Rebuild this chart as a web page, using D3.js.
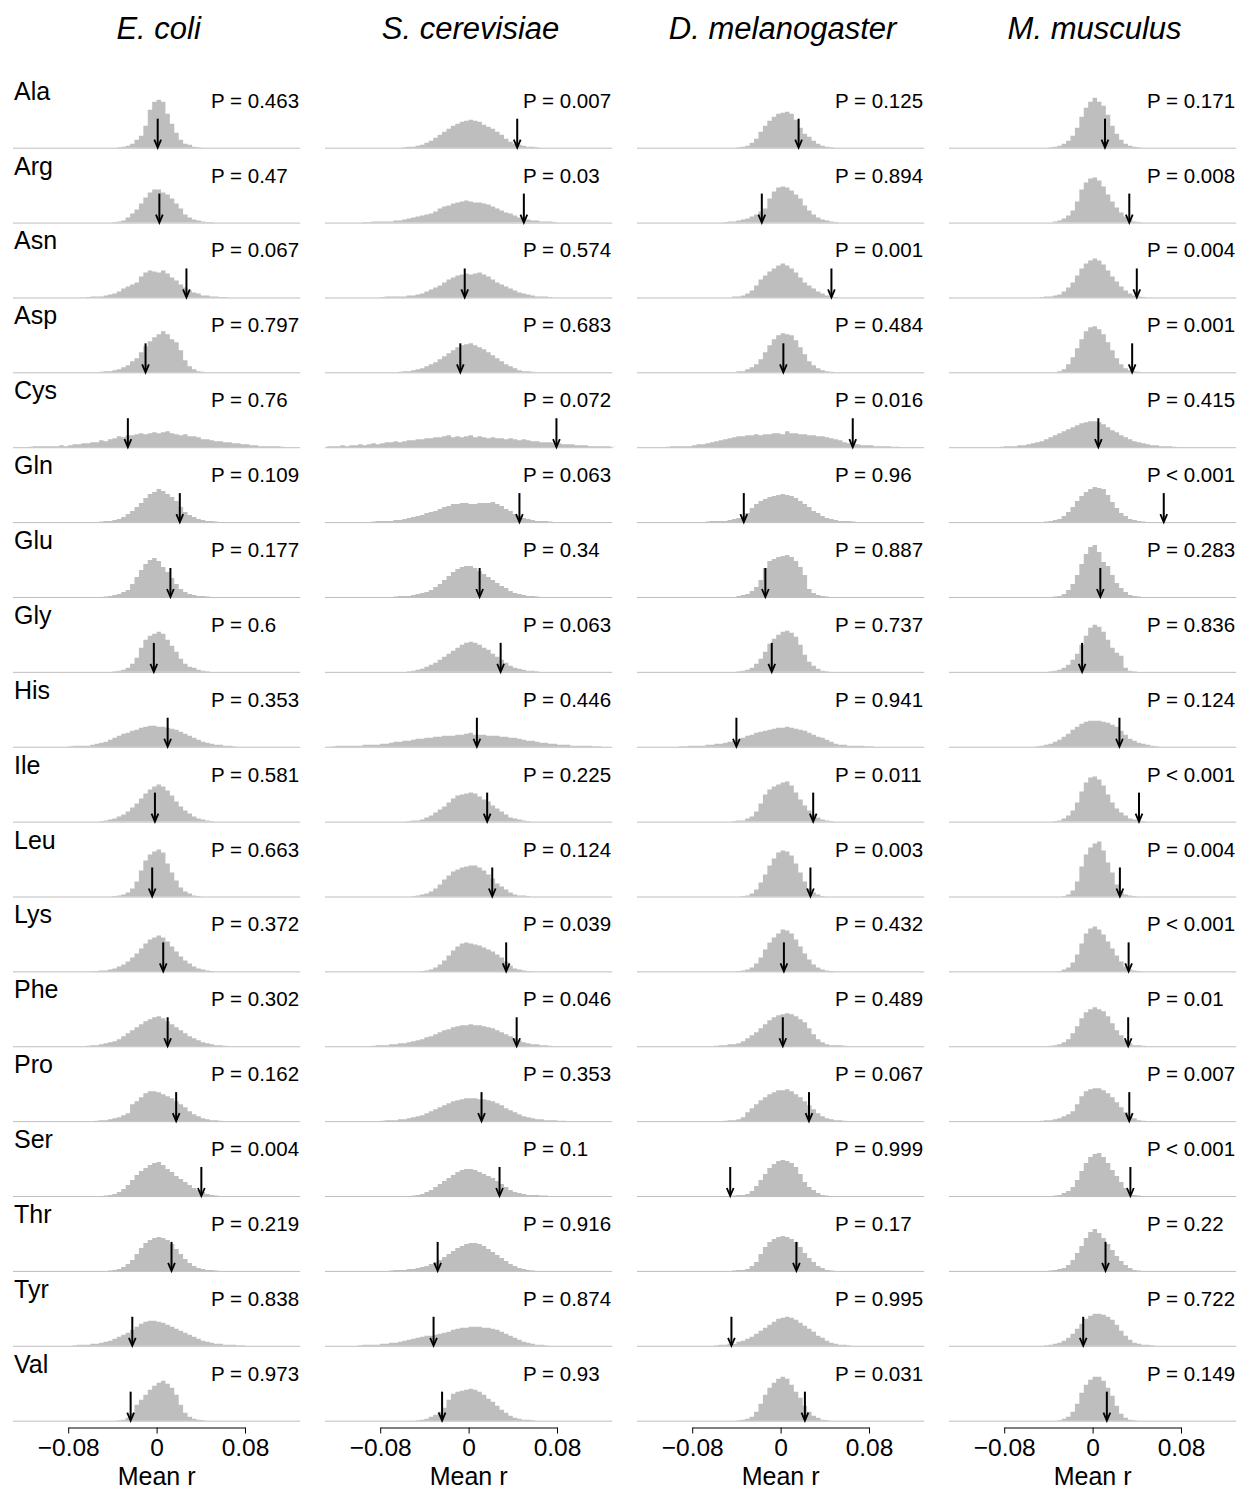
<!DOCTYPE html>
<html>
<head>
<meta charset="utf-8">
<script src="https://cdn.jsdelivr.net/npm/d3@7"></script>
<style>
  body { margin: 0; background: #fff; }
  text { font-family: "Liberation Sans", Arial, Helvetica, sans-serif; }
</style>
</head>
<body>
<div id="chart"></div>
<script>
// ---- data ----
const species = ['E. coli', 'S. cerevisiae', 'D. melanogaster', 'M. musculus'];
const aminoAcids = ['Ala', 'Arg', 'Asn', 'Asp', 'Cys', 'Gln', 'Glu', 'Gly', 'His',
                    'Ile', 'Leu', 'Lys', 'Phe', 'Pro', 'Ser', 'Thr', 'Tyr', 'Val'];
const xTicks = [-0.08, 0, 0.08];
const tickLabels = ['\u22120.08', '0', '0.08'];
const binWidth = 0.004;

// P values as printed
const pEcoli = ['= 0.463', '= 0.47', '= 0.067', '= 0.797', '= 0.76', '= 0.109', '= 0.177', '= 0.6', '= 0.353',
                '= 0.581', '= 0.663', '= 0.372', '= 0.302', '= 0.162', '= 0.004', '= 0.219', '= 0.838', '= 0.973'];
const pScer = ['= 0.007', '= 0.03', '= 0.574', '= 0.683', '= 0.072', '= 0.063', '= 0.34', '= 0.063', '= 0.446',
               '= 0.225', '= 0.124', '= 0.039', '= 0.046', '= 0.353', '= 0.1', '= 0.916', '= 0.874', '= 0.93'];
const pDmel = ['= 0.125', '= 0.894', '= 0.001', '= 0.484', '= 0.016', '= 0.96', '= 0.887', '= 0.737', '= 0.941',
               '= 0.011', '= 0.003', '= 0.432', '= 0.489', '= 0.067', '= 0.999', '= 0.17', '= 0.995', '= 0.031'];
const pMmus = ['= 0.171', '= 0.008', '= 0.004', '= 0.001', '= 0.415', '< 0.001', '= 0.283', '= 0.836', '= 0.124',
               '< 0.001', '= 0.004', '< 0.001', '= 0.01', '= 0.007', '< 0.001', '= 0.22', '= 0.722', '= 0.149'];

// observed mean r (arrows)
const obsEcoli = [0.001, 0.0025, 0.027, -0.010, -0.026, 0.021, 0.0125, -0.0025, 0.010,
                  -0.0015, -0.004, 0.006, 0.010, 0.0177, 0.0405, 0.0135, -0.022, -0.0235];
const obsScer = [0.044, 0.050, -0.0035, -0.0075, 0.0795, 0.046, 0.010, 0.029, 0.0075,
                 0.0168, 0.0214, 0.034, 0.0435, 0.0117, 0.028, -0.028, -0.0317, -0.024];
const obsDmel = [0.0163, -0.017, 0.046, 0.0025, 0.0653, -0.0333, -0.0138, -0.008, -0.040,
                 0.0295, 0.027, 0.003, 0.002, 0.0257, -0.0456, 0.0143, -0.0445, 0.022];
const obsMmus = [0.0112, 0.0332, 0.040, 0.0358, 0.0052, 0.0644, 0.007, -0.0095, 0.0243,
                 0.042, 0.0247, 0.0326, 0.0322, 0.0332, 0.0342, 0.0117, -0.0085, 0.0129];

// null distributions: first bin edge, then counts per 0.004 bin
const startEcoli = [-0.036, -0.040, -0.064, -0.052, -0.116, -0.052, -0.048, -0.040, -0.080,
                    -0.052, -0.040, -0.056, -0.064, -0.056, -0.048, -0.044, -0.076, -0.036];
const countsEcoli = [
  [0.5,1,2,4,8,12,22,38,46,48,46,34,24,15,8,4,3,1,0.5],
  [0.5,1,2,5,9,13,19,25,30,33,33,30,28,24,19,14,8,5,3,2,1,0.5,0.5],
  [0.5,1,1,1,2,3,4,6,9,11,13,15,21,25,27,26,25,27,24,20,17,13,10,7,5,4,2,2,1,1,0.5,0.5],
  [0.5,1,1,2,3,5,7,11,14,20,26,31,35,38,41,38,33,30,22,12,6,3,1,0.5],
  [0.5,1,1,1,1,1,1,2,1,2,3,3,4,4,5,5,7,6,8,9,11,10,12,12,13,14,13,14,15,14,15,16,14,13,12,13,11,11,10,8,8,7,6,6,5,5,4,4,3,3,2,2,1,1,1,1,1,0.5],
  [0.5,1,1,2,3,5,8,11,15,19,24,28,30,33,31,28,25,21,15,10,7,5,3,2,1,1,0.5],
  [0.5,1,2,3,5,7,13,20,27,33,37,39,36,30,25,19,13,8,5,3,2,1,1,0.5],
  [0.5,1,2,4,8,14,24,32,36,38,40,38,32,26,20,13,8,5,4,2,1,0.5],
  [0.5,1,1,1,1,2,3,4,5,7,9,11,13,14,16,17,19,20,21,21,20,20,19,18,17,15,13,11,9,7,5,4,3,2,2,1,1,0.5],
  [0.5,1,2,3,5,7,10,14,18,23,28,32,35,37,35,31,26,20,15,11,8,5,3,2,1,0.5],
  [0.5,1,2,4,8,15,26,36,42,45,47,44,33,24,16,9,5,3,1,0.5],
  [0.5,1,1,2,3,5,7,10,14,18,23,28,32,34,36,34,30,25,20,15,11,8,5,3,2,1,0.5],
  [0.5,1,1,2,3,4,5,7,10,13,16,19,22,25,27,29,30,28,25,22,19,16,13,10,8,6,4,3,2,1,1,0.5],
  [0.5,1,1,2,3,4,6,8,17,20,24,28,30,30,29,27,25,23,20,17,14,10,7,5,3,2,1,1,0.5],
  [0.5,1,2,4,7,11,16,21,25,28,31,33,34,31,27,24,20,17,14,11,8,6,4,2,1,0.5],
  [0.5,1,2,4,7,11,17,23,28,31,33,34,33,31,27,22,17,12,8,5,3,2,1,1,0.5],
  [0.5,1,1,1,2,2,3,4,5,7,9,11,13,16,19,22,24,25,25,24,23,21,19,17,15,13,11,9,7,5,4,3,2,2,1,1,1,0.5,0.5],
  [0.5,1,3,8,16,21,26,31,35,38,40,37,33,26,16,8,4,2,1,0.5]
];

const startScer = [-0.060, -0.096, -0.080, -0.064, -0.128, -0.088, -0.068, -0.056, -0.124,
                   -0.056, -0.052, -0.044, -0.088, -0.080, -0.052, -0.072, -0.100, -0.048];
const countsScer = [
  [0.5,1,1,2,3,5,7,10,13,16,19,22,24,26,27,28,27,26,23,21,19,16,13,9,6,4,3,2,1,1,0.5],
  [0.5,0.5,1,1,1,1,1,2,2,3,4,5,6,7,8,9,11,14,16,17,19,20,21,22,21,20,20,19,18,16,14,12,10,9,7,5,4,3,2,2,1,1,1,0.5],
  [0.5,1,1,1,1,1,2,2,3,4,6,8,10,12,15,18,20,22,23,24,23,24,25,23,21,18,15,13,11,9,7,5,4,3,2,1,1,1,0.5],
  [0.5,1,1,2,3,4,6,8,10,13,16,19,22,25,27,28,29,27,25,23,20,17,14,11,8,6,4,2,1,1,0.5],
  [1,1,1,2,1,2,2,3,2,3,4,3,4,5,5,6,5,6,7,7,8,8,9,9,10,10,11,12,10,11,10,11,12,10,11,10,9,10,9,9,8,9,8,7,8,7,6,6,5,5,5,4,4,3,3,3,2,2,2,1,1,1,1,1,0.5],
  [0.5,1,1,1,1,2,2,3,4,5,6,7,9,10,11,13,15,16,18,18,19,19,18,18,19,19,19,20,18,16,13,11,8,6,4,3,2,1,1,1,0.5],
  [0.5,1,1,1,2,3,4,5,7,10,13,17,21,25,28,30,31,31,29,26,23,20,17,14,11,9,6,4,3,2,1,1,0.5],
  [0.5,1,2,3,5,7,9,12,15,18,21,24,27,29,30,29,27,24,22,18,15,12,9,6,4,3,2,1,1,0.5],
  [0.5,1,1,1,1,1,1,2,2,2,2,3,3,4,5,5,6,6,7,8,8,9,9,10,10,11,11,11,12,12,13,14,12,12,12,11,11,11,10,10,9,9,8,7,6,6,5,4,4,3,3,2,2,2,1,1,1,1,1,0.5,0.5],
  [0.5,1,1,2,4,6,9,12,15,19,23,26,27,28,29,28,25,22,20,16,13,10,7,4,3,2,1,0.5],
  [0.5,1,2,3,5,8,12,17,21,25,27,29,30,31,31,29,26,22,18,13,10,7,4,2,1,1,0.5],
  [0.5,1,2,4,7,11,16,21,25,28,29,28,27,26,24,22,20,17,14,10,6,3,2,1,0.5],
  [0.5,1,1,1,2,2,3,3,4,5,6,7,9,10,12,14,16,17,19,20,21,21,22,21,21,20,19,18,16,14,12,10,8,6,4,3,2,2,1,1,0.5],
  [0.5,1,1,1,2,2,3,4,5,6,8,10,12,14,16,18,20,21,22,23,23,23,22,22,21,20,18,16,13,11,9,7,5,4,3,2,2,1,1,1,0.5,0.5],
  [0.5,1,2,4,6,9,12,15,18,21,24,26,27,27,26,24,22,20,18,15,12,9,6,4,3,2,1,1,1,0.5,0.5],
  [0.5,1,1,1,2,2,3,4,5,7,9,11,14,17,20,23,25,27,28,28,27,25,22,19,16,13,10,7,5,3,2,1,0.5],
  [0.5,1,1,1,1,2,2,3,3,4,5,6,7,8,9,10,10,11,12,13,14,16,17,18,18,19,19,19,18,18,17,16,14,12,10,8,6,4,3,2,1,1,0.5],
  [0.5,1,2,4,6,9,13,21,27,29,30,31,32,31,29,26,22,19,15,11,8,5,3,2,1,1,0.5]
];

const startDmel = [-0.040, -0.052, -0.044, -0.040, -0.104, -0.068, -0.040, -0.040, -0.092,
                   -0.044, -0.036, -0.040, -0.060, -0.052, -0.044, -0.044, -0.060, -0.040];
const countsDmel = [
  [0.5,1,2,5,9,16,22,27,31,34,35,36,34,28,20,14,11,7,4,2,1,0.5],
  [0.5,1,1,2,3,4,6,8,11,14,24,31,35,36,35,32,28,24,17,12,8,5,3,2,1,0.5],
  [1,1,2,4,7,12,18,22,26,29,32,34,32,29,25,20,15,12,9,6,4,2,1,0.5],
  [1,1,3,5,8,13,20,27,33,37,39,38,37,32,25,18,11,7,4,2,1,0.5],
  [0.5,1,1,1,1,1,2,3,3,4,5,6,7,8,9,10,11,11,12,12,13,12,13,13,14,14,13,16,14,14,13,13,12,12,11,11,10,9,8,7,5,4,3,3,2,2,2,1,1,1,1,0.5,0.5],
  [0.5,1,1,1,1,2,3,4,6,9,14,18,21,23,25,26,27,28,27,26,24,21,18,15,11,9,6,4,3,2,1,1,1,0.5],
  [1,2,3,6,10,17,29,36,38,40,41,42,40,36,30,22,8,4,2,1,0.5],
  [0.5,1,2,4,8,13,20,28,33,37,40,41,39,35,27,17,10,6,3,1,0.5],
  [0.5,0.5,1,1,1,1,2,2,3,3,4,5,6,7,9,11,12,14,15,16,17,18,19,19,20,19,18,17,16,14,12,10,9,7,5,3,2,2,1,1,1,1,0.5,0.5],
  [0.5,1,1,3,5,10,18,27,32,35,37,39,40,36,29,22,16,11,7,4,2,1,0.5],
  [0.5,1,3,7,14,22,31,38,44,46,45,41,33,24,15,8,4,2,0.5],
  [0.5,1,2,4,8,14,22,29,34,38,42,41,38,32,25,18,12,7,4,2,1,0.5],
  [0.5,1,1,2,2,3,5,8,11,14,18,22,26,29,31,32,33,32,30,27,24,18,12,7,4,2,1,1,1,0.5],
  [0.5,1,1,2,4,9,13,17,21,24,27,29,31,31,32,30,27,24,20,16,12,8,5,3,2,1,1,0.5],
  [0.5,1,1,2,5,10,16,22,28,32,35,36,35,33,29,22,14,9,6,3,1,0.5],
  [0.5,1,1,2,5,9,17,24,29,32,34,35,34,32,29,24,18,13,9,5,3,1,0.5],
  [0.5,1,1,2,2,4,5,7,9,12,15,18,21,24,27,28,29,28,26,23,20,17,14,10,8,5,3,2,1,1,0.5],
  [0.5,1,2,4,9,17,26,33,38,42,44,42,36,29,23,15,9,5,3,1,0.5]
];

const startMmus = [-0.040, -0.036, -0.048, -0.032, -0.084, -0.044, -0.036, -0.040, -0.052,
                   -0.036, -0.028, -0.032, -0.040, -0.048, -0.036, -0.040, -0.044, -0.032];
const countsMmus = [
  [0.5,1,2,4,7,12,20,31,40,46,50,46,42,33,22,14,8,4,2,1,0.5],
  [1,2,4,7,12,21,33,40,44,45,42,36,28,21,15,10,6,3,1,0.5],
  [0.5,1,1,2,3,6,10,15,22,29,34,37,39,37,33,27,21,16,11,7,4,2,1,0.5],
  [1,3,8,15,24,33,41,45,46,43,38,30,22,14,8,4,2,1,0.5],
  [0.5,1,1,1,2,2,3,4,5,6,8,10,12,14,16,18,20,22,24,25,26,26,25,23,20,17,15,12,10,8,6,5,4,3,2,2,1,1,1,0.5],
  [0.5,1,2,3,6,10,15,21,26,30,33,35,34,33,27,20,14,9,6,3,2,1,0.5],
  [0.5,1,3,7,13,22,33,43,50,52,45,35,31,22,14,9,5,2,1,0.5],
  [0.5,1,2,4,7,12,18,27,36,44,47,45,40,32,24,19,16,4,1,0.5],
  [0.5,1,2,3,5,7,10,13,17,20,23,25,26,26,26,25,24,22,20,16,12,8,6,4,3,2,1,0.5],
  [0.5,1,3,6,11,19,30,39,44,45,42,36,27,19,13,9,6,3,2,1,0.5],
  [0.5,2,6,15,30,42,49,53,55,46,34,24,12,5,2,1,0.5],
  [0.5,2,4,9,17,28,38,43,45,42,37,30,23,16,10,5,2,1,0.5],
  [0.5,1,2,4,7,13,20,28,34,37,39,37,35,30,23,16,11,6,3,1,1,0.5],
  [0.5,1,1,2,3,5,7,10,17,25,30,32,33,33,31,28,24,19,14,9,5,3,1,0.5],
  [0.5,1,3,5,9,16,25,33,39,42,43,39,33,26,20,14,8,4,1,0.5],
  [0.5,1,2,3,6,11,18,25,33,39,42,38,33,27,21,15,10,6,3,1,0.5],
  [0.5,1,2,3,5,8,12,17,22,27,30,32,32,31,29,26,21,15,10,6,3,2,1,1,0.5],
  [0.5,2,4,9,17,28,36,41,44,44,40,33,25,15,7,3,1,0.5]
];

// ---- layout ----
const width = 1241, height = 1492;
const colZero = 156.6, colStep = 312, halfSpan = 88.4;   // px from 0 to 0.08
const rowBase0 = 147.7, rowStep = 74.88;
const axisY = 1427.5;
const barColor = '#bebebe';

const panels = [
  { starts: startEcoli, counts: countsEcoli, obs: obsEcoli, p: pEcoli },
  { starts: startScer, counts: countsScer, obs: obsScer, p: pScer },
  { starts: startDmel, counts: countsDmel, obs: obsDmel, p: pDmel },
  { starts: startMmus, counts: countsMmus, obs: obsMmus, p: pMmus }
];

const svg = d3.select('#chart')
  .append('svg')
  .attr('width', width)
  .attr('height', height);

// counts are drawn 1 unit = 1 px tall
const yScale = d3.scaleLinear().domain([0, 60]).range([0, 60]);

panels.forEach((panel, c) => {
  const cx = colZero + c * colStep;
  const xScale = d3.scaleLinear()
    .domain([-0.08, 0.08])
    .range([cx - halfSpan, cx + halfSpan]);

  const g = svg.append('g');

  g.append('text')
    .attr('x', cx + 2)
    .attr('y', 39)
    .attr('text-anchor', 'middle')
    .style('font-size', '31px')
    .style('font-style', 'italic')
    .text(species[c]);

  aminoAcids.forEach((aa, r) => {
    const base = rowBase0 + r * rowStep;
    const counts = panel.counts[r];
    const start = panel.starts[r];

    const bins = counts.map((v, i) => ({ x0: start + i * binWidth, v: v }));
    bins.push({ x0: start + counts.length * binWidth, v: 0 });

    const area = d3.area()
      .curve(d3.curveStepAfter)
      .x(d => xScale(d.x0))
      .y0(base)
      .y1(d => base - yScale(d.v));

    g.append('path')
      .datum(bins)
      .attr('d', area)
      .attr('fill', barColor);

    // baseline across the panel
    g.append('line')
      .attr('x1', xScale(-0.13))
      .attr('x2', xScale(0.13))
      .attr('y1', base + 0.5)
      .attr('y2', base + 0.5)
      .attr('stroke', barColor)
      .attr('stroke-width', 1);

    // observed value arrow
    const ax = xScale(panel.obs[r]);
    g.append('line')
      .attr('x1', ax).attr('x2', ax)
      .attr('y1', base - 29).attr('y2', base - 1)
      .attr('stroke', '#000')
      .attr('stroke-width', 2);
    g.append('path')
      .attr('d', `M${ax - 3.4},${base - 8}L${ax},${base}L${ax + 3.4},${base - 8}`)
      .attr('fill', 'none')
      .attr('stroke', '#000')
      .attr('stroke-width', 1.8);

    g.append('text')
      .attr('x', cx + 54.5)
      .attr('y', base - 40)
      .style('font-size', '20.5px')
      .text('P ' + panel.p[r]);

    if (c === 0) {
      g.append('text')
        .attr('x', 14)
        .attr('y', base - 48)
        .style('font-size', '25px')
        .text(aa);
    }
  });

  const xAxis = d3.axisBottom(xScale)
    .tickValues(xTicks)
    .tickFormat((d, i) => tickLabels[i])
    .tickSize(6)
    .tickSizeOuter(0)
    .tickPadding(5);

  const ax = g.append('g')
    .attr('transform', `translate(0, ${axisY})`)
    .call(xAxis);
  ax.attr('font-family', null).attr('font-size', null);
  ax.select('.domain').attr('stroke', '#000').attr('stroke-width', 1);
  ax.selectAll('.tick line').attr('stroke', '#000').attr('stroke-width', 1);
  ax.selectAll('.tick text')
    .attr('fill', '#000')
    .style('font-size', '24.5px');

  g.append('text')
    .attr('x', cx)
    .attr('y', 1485)
    .attr('text-anchor', 'middle')
    .style('font-size', '25px')
    .text('Mean r');
});
</script>
</body>
</html>
